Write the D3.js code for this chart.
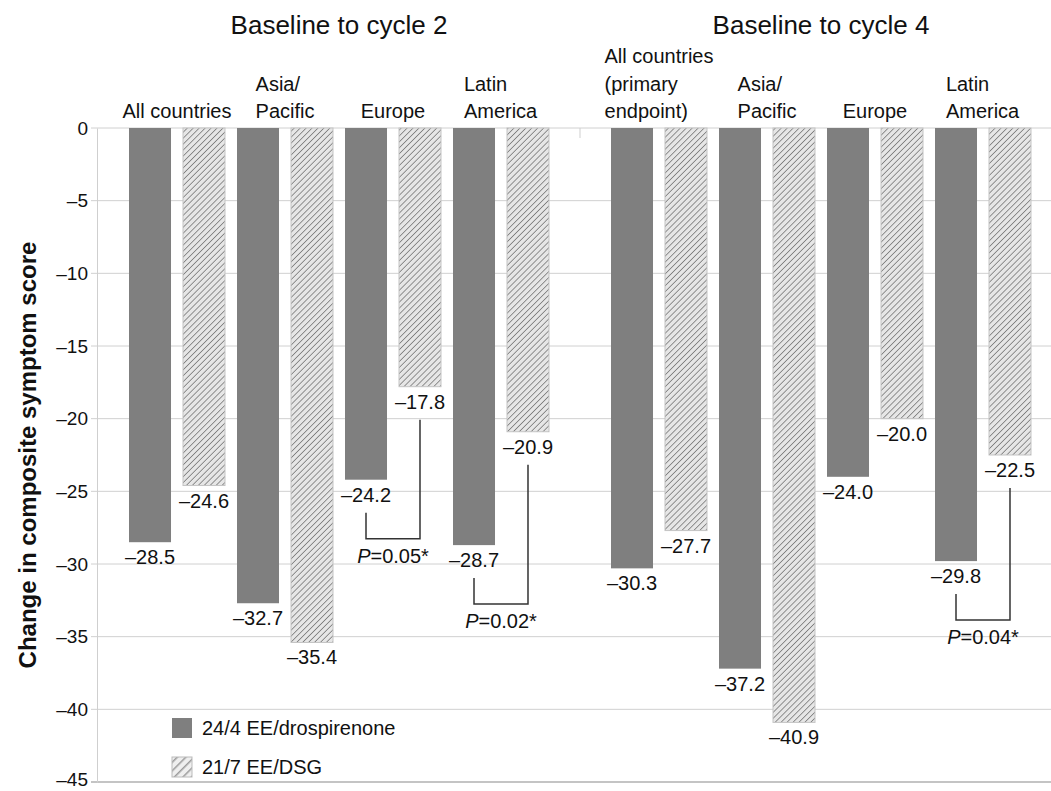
<!DOCTYPE html>
<html>
<head>
<meta charset="utf-8">
<script src="https://cdn.jsdelivr.net/npm/d3@7"></script>
<style>
  html, body { margin: 0; padding: 0; background: #fff; }
  svg { display: block; font-family: "Liberation Sans", Arial, sans-serif; }
</style>
</head>
<body>
<svg id="chart" width="1051" height="791"></svg>
<script>
// ---- data ----
const panelTitles = ["Baseline to cycle 2", "Baseline to cycle 4"];
const categoriesCycle2 = ["All countries", "Asia/\nPacific", "Europe", "Latin\nAmerica"];
const categoriesCycle4 = ["All countries\n(primary\nendpoint)", "Asia/\nPacific", "Europe", "Latin\nAmerica"];
const seriesNames = ["24/4 EE/drospirenone", "21/7 EE/DSG"];
const drospirenoneCycle2 = [-28.5, -32.7, -24.2, -28.7];
const dsgCycle2 = [-24.6, -35.4, -17.8, -20.9];
const drospirenoneCycle4 = [-30.3, -37.2, -24.0, -29.8];
const dsgCycle4 = [-27.7, -40.9, -20.0, -22.5];
const yTicks = [0, -5, -10, -15, -20, -25, -30, -35, -40, -45];
const pBrackets = [
  { panel: 0, category: 2, p: "0.05*" },
  { panel: 0, category: 3, p: "0.02*" },
  { panel: 1, category: 3, p: "0.04*" }
];
const yLabel = "Change in composite symptom score";

// ---- layout ----
const svg = d3.select("#chart");
const W = 1051, H = 791;
const fmt = v => (v < 0 ? "\u2013" : "") + Math.abs(v).toFixed(1);
const fmtTick = v => (v < 0 ? "\u2013" : "") + Math.abs(v);

const y = d3.scaleLinear().domain([-45, 0]).range([782, 128]);

const panels = [
  { title: panelTitles[0], cats: categoriesCycle2, a: drospirenoneCycle2, b: dsgCycle2, range: [129, 549] },
  { title: panelTitles[1], cats: categoriesCycle4, a: drospirenoneCycle4, b: dsgCycle4, range: [611, 1031] }
];
panels.forEach(p => {
  p.x0 = d3.scaleBand().domain(d3.range(p.cats.length)).range(p.range).paddingInner(12 / 108).paddingOuter(0);
  p.x1 = d3.scaleBand().domain([0, 1]).range([0, p.x0.bandwidth()]).paddingInner(0.222).paddingOuter(0);
});

// hatch pattern
const defs = svg.append("defs");
const pat = defs.append("pattern").attr("id", "hatch").attr("patternUnits", "userSpaceOnUse")
  .attr("width", 4.2).attr("height", 4.2).attr("patternTransform", "rotate(45)");
pat.append("rect").attr("width", 4.2).attr("height", 4.2).attr("fill", "#e6e6e6");
pat.append("line").attr("x1", 0).attr("y1", 0).attr("x2", 0).attr("y2", 4.2)
  .attr("stroke", "#7a7a7a").attr("stroke-width", 1.6);
const pat2 = defs.append("pattern").attr("id", "hatchLegend").attr("patternUnits", "userSpaceOnUse")
  .attr("width", 6).attr("height", 6).attr("patternTransform", "rotate(45)");
pat2.append("rect").attr("width", 6).attr("height", 6).attr("fill", "#efefef");
pat2.append("line").attr("x1", 0).attr("y1", 0).attr("x2", 0).attr("y2", 6)
  .attr("stroke", "#9a9a9a").attr("stroke-width", 3);

const colorDark = "#7f7f7f";

// gridlines
const grid = svg.append("g");
grid.selectAll("line").data(yTicks).join("line")
  .attr("x1", 91).attr("x2", W)
  .attr("y1", d => y(d)).attr("y2", d => y(d))
  .attr("stroke", d => d === -45 ? "#c4c4c4" : "#d0d0d0")
  .attr("stroke-width", d => d === -45 ? 2 : 1);

// y axis
const yAxis = d3.axisLeft(y).tickValues(yTicks).tickFormat(fmtTick).tickSize(0).tickPadding(9);
const yg = svg.append("g").attr("transform", "translate(97,0)").call(yAxis);
yg.select(".domain").attr("stroke", "#cfcfcf").attr("stroke-width", 1);
yg.selectAll("text").attr("font-size", 19).attr("fill", "#111").attr("font-family", "Liberation Sans, Arial, sans-serif");
yg.selectAll(".tick").filter(d => d === -45).select("text").attr("dy", "0.2em");

// separator tick between panels
svg.append("line")
  .attr("x1", (panels[0].range[1] + panels[1].range[0]) / 2).attr("x2", (panels[0].range[1] + panels[1].range[0]) / 2)
  .attr("y1", y(0)).attr("y2", y(0) + 10)
  .attr("stroke", "#cfcfcf");

// y label
svg.append("text")
  .attr("transform", `translate(36,${(y(0) + y(-45)) / 2}) rotate(-90)`)
  .attr("text-anchor", "middle")
  .attr("font-size", 24).attr("font-weight", "bold").attr("fill", "#111")
  .text(yLabel);

panels.forEach((p, pi) => {
  const g = svg.append("g");
  // title
  g.append("text")
    .attr("x", (p.range[0] + p.range[1]) / 2).attr("y", 34)
    .attr("text-anchor", "middle").attr("font-size", 26).attr("fill", "#111")
    .text(p.title);

  p.cats.forEach((c, i) => {
    const gx = p.x0(i);
    // bars
    [p.a[i], p.b[i]].forEach((v, s) => {
      g.append("rect")
        .attr("x", gx + p.x1(s)).attr("width", p.x1.bandwidth())
        .attr("y", y(0)).attr("height", y(v) - y(0))
        .attr("fill", s === 0 ? colorDark : "url(#hatch)")
        .attr("stroke", s === 0 ? "none" : "#c4c4c4").attr("stroke-width", 1);
      g.append("text")
        .attr("x", gx + p.x1(s) + p.x1.bandwidth() / 2)
        .attr("y", y(v) + 22)
        .attr("text-anchor", "middle").attr("font-size", 20).attr("fill", "#111")
        .text(fmt(v));
    });
    // category label: left-aligned lines, block centred on group
    const lines = c.split("\n");
    const lt = g.append("text").attr("font-size", 20).attr("fill", "#111");
    lines.forEach((ln, li) => {
      lt.append("tspan").attr("x", 0).attr("y", 118 - (lines.length - 1 - li) * 27.5).text(ln);
    });
    const bw = lt.node().getBBox().width;
    const left = gx + p.x0.bandwidth() / 2 - bw / 2;
    lt.selectAll("tspan").attr("x", left);
  });
});

// brackets
pBrackets.forEach(b => {
  const p = panels[b.panel];
  const gx = p.x0(b.category);
  const xl = gx + p.x1(0) + p.x1.bandwidth() / 2;
  const xr = gx + p.x1(1) + p.x1.bandwidth() / 2;
  const yl = y(p.a[b.category]) + 33;
  const yr = y(p.b[b.category]) + 33;
  const yb = y(p.a[b.category]) + 59;
  svg.append("path")
    .attr("d", `M${xl},${yl}V${yb}H${xr}V${yr}`)
    .attr("fill", "none").attr("stroke", "#333").attr("stroke-width", 1.5);
  const t = svg.append("text").attr("x", (xl + xr) / 2).attr("y", yb + 24)
    .attr("text-anchor", "middle").attr("font-size", 20).attr("fill", "#111");
  t.append("tspan").attr("font-style", "italic").text("P");
  t.append("tspan").text("=" + b.p);
});

// legend
const legend = svg.append("g");
seriesNames.forEach((name, i) => {
  legend.append("rect")
    .attr("x", 172).attr("y", 718 + i * 39).attr("width", 20).attr("height", 20)
    .attr("fill", i === 0 ? colorDark : "url(#hatchLegend)")
    .attr("stroke", i === 0 ? "none" : "#bbb");
  legend.append("text")
    .attr("x", 202).attr("y", 735 + i * 39)
    .attr("font-size", 20).attr("fill", "#111")
    .text(name);
});
</script>
</body>
</html>
